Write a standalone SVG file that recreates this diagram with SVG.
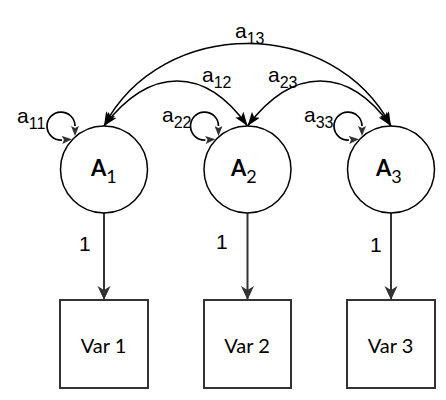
<svg xmlns="http://www.w3.org/2000/svg" width="446" height="400" viewBox="0 0 446 400">
<style>
.lbl{font-family:"Liberation Sans",Arial,sans-serif;font-size:21px;fill:#000}
.sub{font-size:16px}
.node{fill:#fff;stroke:#000;stroke-width:1.5}
.box{fill:#fff;stroke:#333;stroke-width:2}
.nt{font-family:Lato,"Open Sans",sans-serif;fill:#000}
.curve{fill:none;stroke:#000;stroke-width:1.6;marker-start:url(#ah);marker-end:url(#ah)}
.loop{fill:none;stroke:#000;stroke-width:1.7;marker-start:url(#lh);marker-end:url(#lh)}
.down{fill:none;stroke:#333;stroke-width:2;marker-end:url(#vh)}
</style>
<defs>
<marker id="ah" markerUnits="userSpaceOnUse" viewBox="0 0 15 11" refX="14" refY="5.5" markerWidth="15" markerHeight="11" orient="auto-start-reverse">
<path d="M0,0.5 L14,5.5 L0,10.5 L3,5.5 Z" fill="#000"/>
</marker>
<marker id="lh" markerUnits="userSpaceOnUse" viewBox="0 0 10 8" refX="0" refY="4" markerWidth="10" markerHeight="8" orient="auto-start-reverse">
<path d="M0,0 L10,4 L0,8 L2,4 Z" fill="#333"/>
</marker>
<marker id="vh" markerUnits="userSpaceOnUse" viewBox="0 0 15 14" refX="14" refY="7" markerWidth="15" markerHeight="14" orient="auto">
<path d="M0,0.5 L14,7 L0,13.5 L4,7 Z" fill="#333"/>
</marker>
</defs>

<g id="connectors">
<path class="curve" d="M104,126 C162,16 333,16 391,126"/>
<path class="curve" d="M104,126 C150,66 205,66 247.5,126"/>
<path class="curve" d="M247.5,126 C293,66 348,66 391,126"/>
<path class="loop" d="M62,140 A14,14 0 1 1 75,126"/>
<path class="loop" d="M205.5,140 A14,14 0 1 1 218.5,126"/>
<path class="loop" d="M349,140 A14,14 0 1 1 362,126"/>
<line class="down" x1="104" y1="213" x2="104" y2="300"/>
<line class="down" x1="247.5" y1="213" x2="247.5" y2="300"/>
<line class="down" x1="391" y1="213" x2="391" y2="300"/>
<text class="lbl" x="235" y="38">a<tspan class="sub" dy="6">13</tspan></text>
<text class="lbl" x="202" y="82">a<tspan class="sub" dy="6">12</tspan></text>
<text class="lbl" x="268" y="82">a<tspan class="sub" dy="6">23</tspan></text>
<text class="lbl" x="17" y="123">a<tspan class="sub" dy="6">11</tspan></text>
<text class="lbl" x="162" y="122">a<tspan class="sub" dy="6">22</tspan></text>
<text class="lbl" x="304" y="122">a<tspan class="sub" dy="6">33</tspan></text>
<text class="lbl" x="79" y="251">1</text>
<text class="lbl" x="216" y="249">1</text>
<text class="lbl" x="370" y="252">1</text>
</g>

<g id="A1">
<circle class="node" cx="104" cy="169.5" r="43.5"/>
<text class="nt" x="91" y="176" font-size="22" font-weight="bold">A<tspan font-size="18" font-weight="normal" dy="7">1</tspan></text>
</g>
<g id="A2">
<circle class="node" cx="247.5" cy="169.5" r="43.5"/>
<text class="nt" x="231" y="176" font-size="22" font-weight="bold">A<tspan font-size="18" font-weight="normal" dy="7">2</tspan></text>
</g>
<g id="A3">
<circle class="node" cx="391" cy="169.5" r="43.5"/>
<text class="nt" x="376" y="176" font-size="22" font-weight="bold">A<tspan font-size="18" font-weight="normal" dy="7">3</tspan></text>
</g>

<g id="Var1">
<rect class="box" x="60" y="300" width="88" height="88"/>
<text class="nt" x="103.5" y="353" font-size="20" text-anchor="middle">Var 1</text>
</g>
<g id="Var2">
<rect class="box" x="204" y="300" width="87" height="88"/>
<text class="nt" x="247" y="353" font-size="20" text-anchor="middle">Var 2</text>
</g>
<g id="Var3">
<rect class="box" x="347" y="300" width="88" height="88"/>
<text class="nt" x="390.5" y="353" font-size="20" text-anchor="middle">Var 3</text>
</g>
</svg>
